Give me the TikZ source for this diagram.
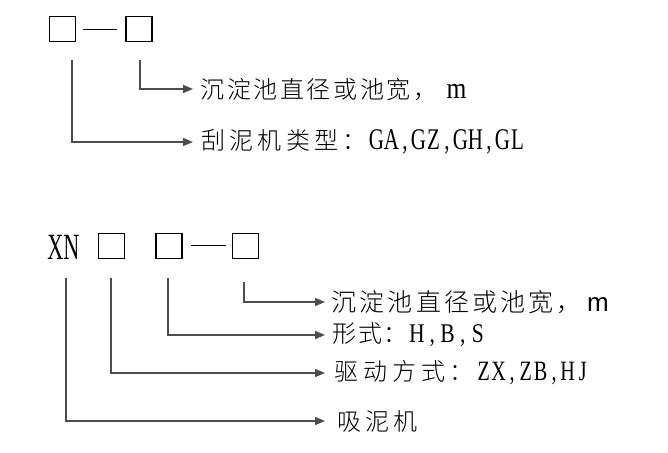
\documentclass[tikz,border=0pt]{standalone}
\usepackage{fontspec}
\usepackage{graphicx}
\usetikzlibrary{arrows.meta}
\newfontfamily\cjk{Noto Sans CJK SC Light}
\newfontfamily\lat{Liberation Serif}
\newfontfamily\sans{Liberation Sans}
\newlength\cellw
\newlength\commaw
\def\cellsx{1}
\makeatletter
\def\mono@loop#1{\ifx#1\relax\else\ifx#1,\makebox[\commaw][c]{\scalebox{\cellsx}[1]{,}}\else\makebox[\cellw][c]{\scalebox{\cellsx}[1]{#1}}\fi\expandafter\mono@loop\fi}
\newcommand\mono[1]{\mono@loop#1\relax}
\makeatother
\newcommand\cells[3]{\setlength\cellw{#1}\setlength\commaw{#2}\def\cellsx{#3}}
\begin{document}
\begin{tikzpicture}[x=1pt,y=-1pt,
  codebox/.style={draw=black,line width=1.1pt,minimum width=26pt,minimum height=25pt,inner sep=0pt},
  dashln/.style={draw=black,line width=0.9pt},
  conn/.style={draw=black!70,line width=1.5pt,-{Triangle[length=10pt,width=8pt]}},
  lbl/.style={anchor=west,inner sep=0pt,text=black}]
\useasboundingbox[fill=white] (0,0) rectangle (668,452);

% ---------- top code ----------
\node[codebox] (a1) at (62.5,29) {};
\node[codebox] (a2) at (139,29) {};
\draw[dashln] ([xshift=7pt]a1.east) -- ([xshift=-8pt]a2.west);
\coordinate (a1s) at (72,60);
\coordinate (a2s) at (140,60);

\node[lbl] (ta2) at (199,89) {{\fontsize{24}{24}\cjk\cells{26.6pt}{0pt}{1}\mono{沉淀池直径或池宽，}}\hspace{8pt}{\fontsize{30}{30}\lat\scalebox{0.85}[1]{m}}};
\node[lbl] (ta1) at (199,142) {{\fontsize{24}{24}\cjk\cells{28.3pt}{0pt}{1}\mono{刮泥机类型：}}{\fontsize{30}{30}\lat\cells{15pt}{12pt}{0.7}\mono{GA,GZ,GH,GL}}};

\draw[conn] (a2s) |- ([xshift=-6pt]ta2.west);
\draw[conn] (a1s) |- ([xshift=-6pt]ta1.west);

% ---------- bottom code ----------
\node[inner sep=0pt] (xn) at (63.5,247.5) {\fontsize{37}{37}\lat\scalebox{0.6}[1]{XN}};
\node[codebox] (b1) at (111.5,245.8) {};
\node[codebox] (b2) at (169,245.8) {};
\node[codebox] (b3) at (245.5,245.8) {};
\draw[dashln] ([xshift=8pt]b2.east) -- ([xshift=-6pt]b3.west);

\coordinate (xns) at (66,278);
\coordinate (b1s) at (111,278);
\coordinate (b2s) at (168,278);
\coordinate (b3s) at (244,282);

\node[lbl] (tc) at (330,302) {{\fontsize{25}{25}\cjk\cells{28.1pt}{0pt}{1}\mono{沉淀池直径或池宽，}}\hspace{4pt}{\fontsize{26}{26}\sans m}};
\node[lbl] (td) at (332,335) {{\fontsize{24}{24}\cjk\cells{25.5pt}{0pt}{1}\mono{形式：}}{\fontsize{27}{27}\lat\cells{16.5pt}{14pt}{0.8}\mono{H,B,S}}};
\node[lbl] (te) at (332,373) {{\fontsize{24}{24}\cjk\cells{28.8pt}{0pt}{1}\mono{驱动方式：}}{\fontsize{28}{28}\lat\cells{15pt}{12pt}{0.72}\mono{ZX,ZB,HJ}}};
\node[lbl] (tf) at (335,421) {{\fontsize{24}{24}\cjk\cells{28pt}{0pt}{1}\mono{吸泥机}}};

\draw[conn] (b3s) |- ([xshift=-5pt]tc.west);
\draw[conn] (b2s) |- ([xshift=-7pt]td.west);
\draw[conn] (b1s) |- ([xshift=-7pt]te.west);
\draw[conn] (xns) |- ([xshift=-10pt]tf.west);
\end{tikzpicture}
\end{document}
